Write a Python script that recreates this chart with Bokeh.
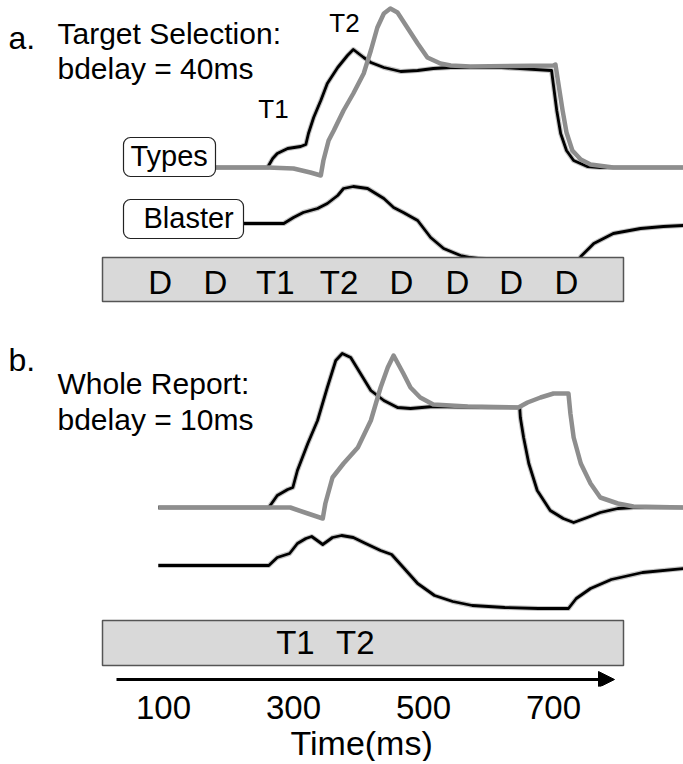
from bokeh.plotting import figure
from bokeh.models import (Range1d, LinearAxis, FixedTicker, BoxAnnotation, Label,
                          Arrow, NormalHead, Title)
from bokeh.core.properties import value
from bokeh.embed import file_html
from bokeh.resources import INLINE

FONT = "Liberation Sans"

# ---- a. Target Selection (bdelay = 40 ms): type-node activations ----
a_t1_time = [175, 260, 268, 275, 291, 311, 319, 323, 331, 342, 352, 368, 383, 392, 408, 419,
             439, 465, 491, 515, 542, 620, 697, 700, 705, 711, 720, 731, 752, 772, 900]
a_t1_act = [0, 0, 0.09, 0.14, 0.19, 0.21, 0.23, 0.34, 0.50, 0.67, 0.84, 1.00, 1.12, 1.18, 1.10, 1.05,
            1.00, 0.96, 0.97, 0.99, 1.00, 1.00, 0.97, 0.82, 0.57, 0.34, 0.17, 0.07, 0.01, 0, 0]

a_t2_time = [175, 260, 300, 326, 342, 346, 354, 362, 377, 392, 408, 419, 429, 439, 449, 460,
             475, 491, 506, 526, 542, 572, 700, 703, 708, 714, 720, 729, 742, 757, 792, 900]
a_t2_act = [0, 0, -0.01, -0.05, -0.08, 0.07, 0.27, 0.37, 0.57, 0.74, 0.94, 1.17, 1.40, 1.54, 1.59, 1.55,
            1.40, 1.24, 1.10, 1.04, 1.02, 1.01, 1.02, 1.03, 0.82, 0.57, 0.35, 0.17, 0.08, 0.03, 0, 0]

# blaster activation, panel a
a_bl_time = [200, 285, 300, 315, 337, 352, 368, 377, 392, 414, 439, 454, 469, 491, 511, 531,
             557, 572, 620, 690, 736, 742, 762, 792, 834, 869, 900]
a_bl_act = [0, 0, 0.06, 0.11, 0.15, 0.20, 0.28, 0.35, 0.37, 0.35, 0.25, 0.16, 0.11, 0.03, -0.14, -0.25,
            -0.32, -0.34, -0.38, -0.41, -0.42, -0.33, -0.20, -0.10, -0.05, -0.03, -0.02]

# ---- b. Whole Report (bdelay = 10 ms) ----
b_t1_time = [92, 262, 275, 291, 299, 306, 322, 337, 352, 365, 375, 388, 403, 419, 439, 460,
             480, 515, 600, 648, 649, 654, 662, 675, 695, 715, 731, 752, 772, 799, 823, 900]
b_t1_act = [0, 0, 0.12, 0.18, 0.20, 0.37, 0.64, 0.87, 1.20, 1.47, 1.54, 1.50, 1.34, 1.17, 1.07, 1.00,
            0.99, 1.01, 1.00, 1.00, 0.90, 0.70, 0.44, 0.17, -0.03, -0.11, -0.15, -0.10, -0.05, -0.01, 0, 0]

b_t2_time = [92, 260, 295, 322, 345, 349, 360, 377, 399, 419, 434, 445, 454, 469, 480, 495,
             515, 568, 646, 660, 680, 700, 723, 726, 731, 742, 757, 772, 799, 823, 900]
b_t2_act = [0, 0, 0, -0.06, -0.11, 0.04, 0.30, 0.44, 0.60, 0.87, 1.20, 1.40, 1.52, 1.34, 1.20, 1.10,
            1.03, 1.01, 1.00, 1.05, 1.10, 1.14, 1.14, 0.94, 0.70, 0.44, 0.24, 0.10, 0.04, 0.01, 0]

b_bl_time = [92, 262, 275, 294, 306, 319, 328, 345, 360, 374, 392, 411, 434, 451, 469, 491,
             517, 545, 575, 625, 677, 723, 735, 757, 789, 837, 900]
b_bl_act = [0, 0, 0.08, 0.12, 0.22, 0.27, 0.29, 0.21, 0.28, 0.30, 0.28, 0.22, 0.15, 0.11, -0.02, -0.18,
            -0.30, -0.36, -0.40, -0.42, -0.43, -0.43, -0.33, -0.23, -0.14, -0.07, -0.03]

# RSVP streams (item onset, ms)
stream_a_labels = ["D", "D", "T1", "T2", "D", "D", "D", "D"]
stream_a_times = [95, 180, 272, 370, 466, 552, 635, 720]
stream_b_labels = ["T1", "T2"]
stream_b_times = [303, 395]

tick_values = [100, 300, 500, 700]

# ---- layout ----
CANVAS_H = 764
FRAME_W, FRAME_H = 683, 686
PX_PER_MS = 0.65
X0 = 100 - 163 / PX_PER_MS
X1 = X0 + FRAME_W / PX_PER_MS
ACT_SCALE = 100.0          # vertical units per unit of activation
LABEL_LIFT = 10            # baseline correction for annotation text
GLYPH_LIFT = 13            # baseline correction for text glyphs


def tx(px):
    return X0 + px / PX_PER_MS


def ty(py):
    return CANVAS_H - py


p = figure(frame_width=FRAME_W, frame_height=FRAME_H, title=None,
           x_range=Range1d(X0, X1), y_range=Range1d(CANVAS_H - FRAME_H, CANVAS_H),
           x_axis_type=None, y_axis_type=None, toolbar_location=None,
           output_backend="svg", min_border=0, outline_line_color=None)
p.xgrid.visible = False
p.ygrid.visible = False
p.background_fill_color = "white"
p.border_fill_color = "white"


def trace(times, acts, base_py, color):
    ys = [ty(base_py) + ACT_SCALE * a for a in acts]
    if color == "black":
        p.line(times, ys, line_color="#8a8a8a", line_width=5, line_alpha=0.5, line_join="round")
        p.line(times, ys, line_color="black", line_width=2.8, line_join="round")
    else:
        p.line(times, ys, line_color="#8e8e8e", line_width=4.5, line_join="round")


# panel a
trace(a_t1_time, a_t1_act, 167, "black")
trace(a_t2_time, a_t2_act, 167, "gray")
trace(a_bl_time, a_bl_act, 223, "black")
# panel b
trace(b_t1_time, b_t1_act, 507, "black")
trace(b_t2_time, b_t2_act, 507, "gray")
trace(b_bl_time, b_bl_act, 565, "black")

# stream boxes
p.quad(left=[tx(102)], right=[tx(623)], top=[ty(257)], bottom=[ty(301)],
       fill_color="#d9d9d9", line_color="#555555", line_width=1.5)
p.quad(left=[tx(102)], right=[tx(623)], top=[ty(620)], bottom=[ty(665)],
       fill_color="#d9d9d9", line_color="#555555", line_width=1.5)
p.text(x=stream_a_times, y=[ty(295) + GLYPH_LIFT] * len(stream_a_times), text=stream_a_labels,
       text_font=value(FONT), text_font_size="33px", text_align="center",
       text_baseline="alphabetic", text_color="black")
p.text(x=stream_b_times, y=[ty(655) + GLYPH_LIFT] * len(stream_b_times), text=stream_b_labels,
       text_font=value(FONT), text_font_size="33px", text_align="center",
       text_baseline="alphabetic", text_color="black")

# node name boxes
for (l, r, t, b, name, tx_px, base_px) in [(123, 215, 137, 176, "Types", 130, 165),
                                          (123, 243, 199, 238, "Blaster", 143, 227)]:
    p.add_layout(BoxAnnotation(left=tx(l), right=tx(r), top=ty(t), bottom=ty(b),
                               fill_color="white", fill_alpha=1.0, line_color="#222222",
                               line_alpha=1.0, line_width=1.2, border_radius=7))
    p.add_layout(Label(x=tx(tx_px), y=ty(base_px) + LABEL_LIFT, text=name, text_font=FONT,
                       text_font_size="29px", text_baseline="alphabetic", text_color="black"))


def label(px, py, text, size, align="left"):
    p.add_layout(Label(x=tx(px), y=ty(py) + LABEL_LIFT, text=text, text_font=FONT,
                       text_font_size=size, text_align=align, text_baseline="alphabetic",
                       text_color="black"))


label(8, 47, "a.", "32px")
label(57, 43, "Target Selection:", "30px")
label(57, 78, "bdelay = 40ms", "30px")
label(273, 118, "T1", "26px", "center")
label(344, 32, "T2", "26px", "center")

label(8, 369, "b.", "32px")
label(57, 393, "Whole Report:", "30px")
label(57, 429, "bdelay = 10ms", "30px")

# time arrow
p.add_layout(Arrow(end=NormalHead(size=16, fill_color="black", line_color="black"),
                   x_start=tx(116), y_start=ty(679), x_end=tx(614), y_end=ty(679),
                   line_width=3, line_color="black"))

# time axis
xaxis = LinearAxis(ticker=FixedTicker(ticks=tick_values))
xaxis.axis_line_color = None
xaxis.major_tick_line_color = None
xaxis.minor_tick_line_color = None
xaxis.major_label_standoff = 3
xaxis.major_label_text_font = FONT
xaxis.major_label_text_font_size = "33px"
xaxis.major_label_text_color = "black"
p.add_layout(xaxis, "below")
p.add_layout(Title(text="Time(ms)", align="left", offset=290, standoff=0,
                   text_font=FONT, text_font_size="34px", text_font_style="normal",
                   text_color="black"), "below")

open("out.html", "w").write(file_html(p, INLINE))
